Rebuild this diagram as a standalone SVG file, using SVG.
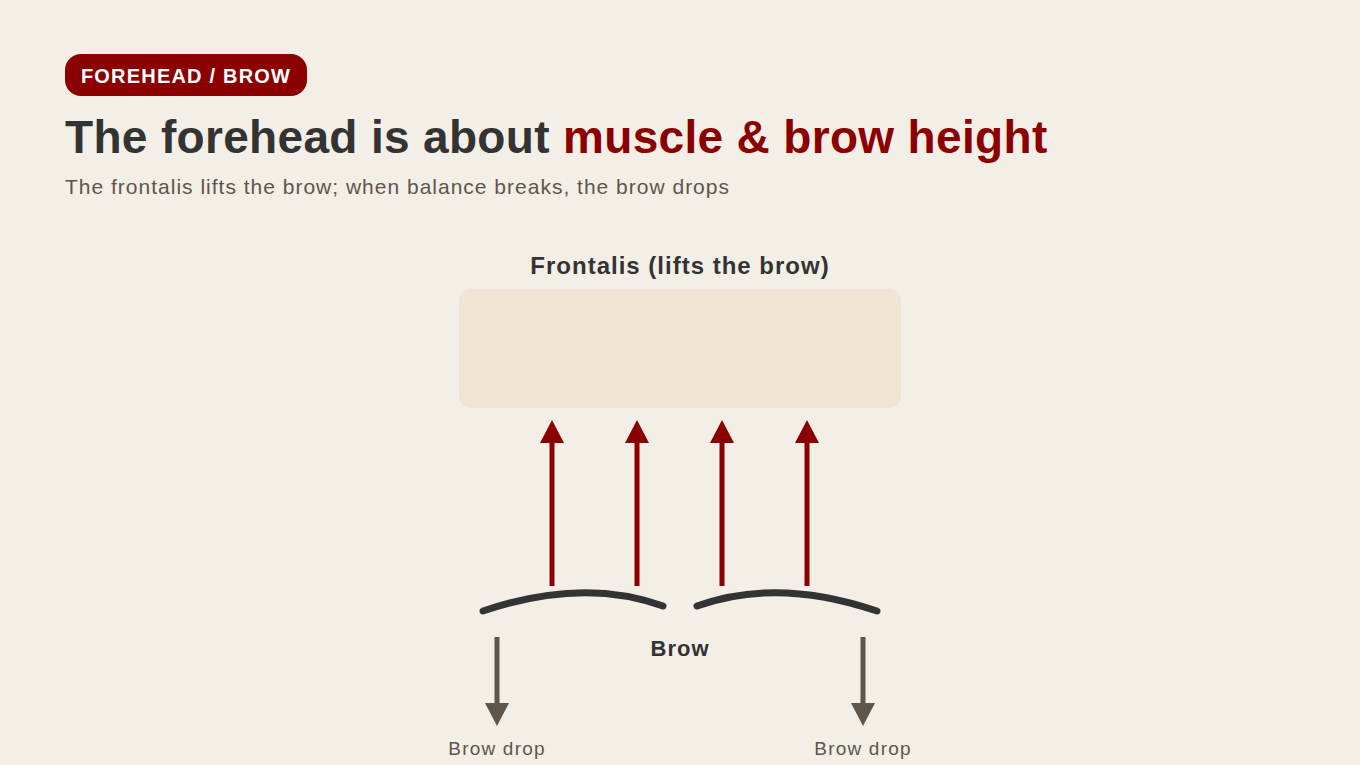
<svg xmlns="http://www.w3.org/2000/svg" width="1360" height="765" viewBox="0 0 1360 765">
<style>
  text { font-family: "Liberation Sans", Arial, sans-serif; }
  .dark { fill: #333333; }
  .red { fill: #8B0000; }
  .muted { fill: #5E554B; }
  .lift { stroke: #8B0000; stroke-width: 5; fill: none; }
  .drop { stroke: #5E554B; stroke-width: 5; fill: none; }
  .brow { stroke: #333333; stroke-width: 7; fill: none; stroke-linecap: round; }
</style>
<defs>
  <marker id="hdRed" markerUnits="userSpaceOnUse" markerWidth="24" markerHeight="24" viewBox="0 0 24 24" refX="0" refY="12" orient="auto">
    <path d="M0,0 L23,12 L0,24 Z" fill="#8B0000"/>
  </marker>
  <marker id="hdBrown" markerUnits="userSpaceOnUse" markerWidth="24" markerHeight="24" viewBox="0 0 24 24" refX="0" refY="12" orient="auto">
    <path d="M0,0 L23,12 L0,24 Z" fill="#5E554B"/>
  </marker>
</defs>
<rect width="1360" height="765" fill="#F3EFE7"/>

<g id="badge">
  <rect x="65" y="54" width="242" height="42" rx="16" fill="#8B0000"/>
  <text x="186" y="83" text-anchor="middle" font-size="20" font-weight="bold" letter-spacing="1.2" fill="#FFFFFF">FOREHEAD / BROW</text>
</g>

<g id="title">
  <text x="65" y="153" font-size="46" font-weight="bold" letter-spacing="0.33" class="dark">The forehead is about <tspan class="red">muscle &amp; brow height</tspan></text>
  <text x="65" y="194" font-size="21" letter-spacing="1" class="muted">The frontalis lifts the brow; when balance breaks, the brow drops</text>
</g>

<g id="frontalis">
  <text x="680" y="274" text-anchor="middle" font-size="24" font-weight="bold" letter-spacing="1" class="dark">Frontalis (lifts the brow)</text>
  <rect x="459" y="289" width="442" height="119" rx="12" fill="#F0E4D3"/>
</g>

<g id="brow">
  <path class="brow" d="M483,611 Q583,577 663,606"/>
  <path class="brow" d="M697,606 Q777,577 877,611"/>
  <text x="680" y="656" text-anchor="middle" font-size="22" font-weight="bold" letter-spacing="1" class="dark">Brow</text>
</g>

<g id="drop-left">
  <text x="497" y="755" text-anchor="middle" font-size="19" letter-spacing="1.2" class="muted">Brow drop</text>
</g>
<g id="drop-right">
  <text x="863" y="755" text-anchor="middle" font-size="19" letter-spacing="1.2" class="muted">Brow drop</text>
</g>

<g id="connectors">
  <line class="lift" x1="552" y1="586" x2="552" y2="443" marker-end="url(#hdRed)"/>
  <line class="lift" x1="637" y1="586" x2="637" y2="443" marker-end="url(#hdRed)"/>
  <line class="lift" x1="722" y1="586" x2="722" y2="443" marker-end="url(#hdRed)"/>
  <line class="lift" x1="807" y1="586" x2="807" y2="443" marker-end="url(#hdRed)"/>
  <line class="drop" x1="497" y1="637" x2="497" y2="703" marker-end="url(#hdBrown)"/>
  <line class="drop" x1="863" y1="637" x2="863" y2="703" marker-end="url(#hdBrown)"/>
</g>
</svg>
